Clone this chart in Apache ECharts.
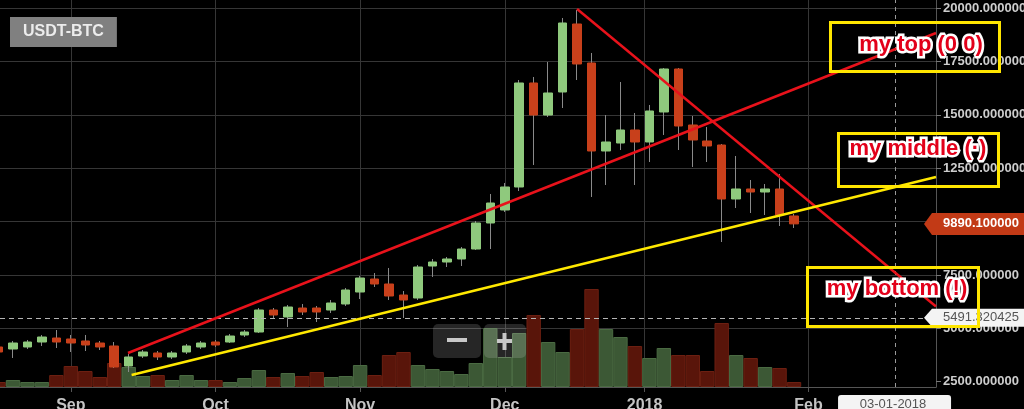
<!DOCTYPE html>
<html><head><meta charset="utf-8">
<script src="https://cdn.jsdelivr.net/npm/echarts@6/dist/echarts.min.js"></script>
<style>html,body{margin:0;padding:0;background:#000;}#c{width:1024px;height:409px;}</style>
</head><body><div id="c"></div>
<script>
// ---- data (3-day candles, USDT-BTC) ----
const dates = ['2017-08-17','2017-08-20','2017-08-23','2017-08-26','2017-08-29','2017-09-01','2017-09-04','2017-09-07','2017-09-10','2017-09-13',
'2017-09-16','2017-09-19','2017-09-22','2017-09-25','2017-09-28','2017-10-01','2017-10-04','2017-10-07','2017-10-10','2017-10-13',
'2017-10-16','2017-10-19','2017-10-22','2017-10-25','2017-10-28','2017-10-31','2017-11-03','2017-11-06','2017-11-09','2017-11-12',
'2017-11-15','2017-11-18','2017-11-21','2017-11-24','2017-11-27','2017-11-30','2017-12-03','2017-12-06','2017-12-09','2017-12-12',
'2017-12-15','2017-12-18','2017-12-21','2017-12-24','2017-12-27','2017-12-30','2018-01-02','2018-01-05','2018-01-08','2018-01-11',
'2018-01-14','2018-01-17','2018-01-20','2018-01-23','2018-01-26','2018-01-29'];
const opens = [4125,4031,4125,4359,4546,4499,4406,4312,4172,3235,3703,3844,3657,3891,4125,4359,4359,4687,4827,5857,5530,5951,5951,5857,6139,6700,7309,7075,6560,6419,7918,8105,8246,8714,9932,10541,11618,16488,14989,16067,19251,17425,13304,13678,14287,13725,15130,17144,14521,13772,13584,11056,11524,11383,11524,10260];
const closes = [3891,4312,4359,4593,4359,4312,4219,4125,3189,3657,3891,3657,3844,4172,4312,4219,4640,4827,5857,5623,5998,5764,5764,6185,6794,7356,7075,6513,6326,7871,8105,8246,8714,9932,10868,11618,16488,14989,16020,19298,17378,13304,13725,14287,13725,15177,17144,14474,13819,13538,11056,11524,11383,11524,10306,9890.1];
const lows = [3750,3610,4031,4172,4078,3891,3937,3984,3142,2954,3610,3516,3563,3797,4031,4125,4312,4593,4780,5483,5061,5623,5295,5717,6045,6372,6935,6326,5483,6326,7403,7871,7918,8667,8714,10447,11430,12648,14896,15317,16628,11150,11711,13350,11711,12788,14053,13350,12554,12788,9042,10634,10400,10306,9791,9698];
const highs = [4265,4406,4453,4687,4921,4687,4687,4406,4359,3797,3984,3937,3937,4265,4406,4453,4734,4921,5951,5951,6092,6139,6045,6326,6888,7450,7590,7825,6747,7965,8246,8339,8808,10025,11290,11805,16628,16769,17471,19532,19907,17893,14989,16535,15083,15458,17190,17190,14942,14428,13631,13069,11945,11758,12226,10353];
const volumes = [5,7,5,5,12,21,16,10,24,20,11,12,7,12,7,7,5,9,17,10,14,11,15,10,11,22,12,32,35,22,18,16,13,24,59,30,54,72,45,35,58,98,58,50,41,29,39,32,32,16,64,32,29,20,19,5];
const monthTicks = ['2017-09-01','2017-10-01','2017-10-31','2017-11-30','2017-12-29','2018-02-01'];
const monthLabels = ['Sep','Oct','Nov','Dec','2018','Feb'];
const axisStart = '2017-08-17 07:16';
const axisEnd = '2018-02-27 10:50';
const lastPrice = 9890.1;
const markPrice = 5491.320425;
const crossDate = '2018-02-18 23:00';
const crossLabel = '03-01-2018';
const trendRedUp = [['2017-09-12 20:24', 3844], ['2018-02-27 10:50', 18830]];
const trendRedDown = [['2017-12-15 00:00', 19950], ['2018-02-27 10:50', 6020]];
const trendYellow = [['2017-09-13 14:24', 2814], ['2018-02-27 10:50', 12086]];
const notes = ['my top (0 0)', 'my middle (·)', 'my bottom (!)'];
const pairName = 'USDT-BTC';

function ts(s){const p=s.split(' ');const d=p[0].split('-').map(Number);const t=(p[1]||'00:00').split(':').map(Number);return new Date(d[0],d[1]-1,d[2],t[0],t[1]).getTime();}

const UP='#8fc97d', DOWN='#c8401b';
const FONT='"Liberation Sans", Arial, sans-serif';
const tickVals = monthTicks.map(ts);
const labelMap = {}; monthTicks.forEach((d,i)=>{labelMap[ts(d)]=monthLabels[i];});

const wickData = dates.map((d,i)=>[ts(d), opens[i], closes[i], lows[i], highs[i]]);
const bodyData = dates.map((d,i)=>[ts(d), opens[i], closes[i], Math.min(opens[i],closes[i]), Math.max(opens[i],closes[i])]);
const volData = dates.map((d,i)=>{const up=closes[i]>=opens[i];return {value:[ts(d), volumes[i]], itemStyle:{color: up?'#3c5835':'#59150a', borderColor: up?'#4a6a42':'#6c1f11', borderWidth:1}};});
const toLine = arr => arr.map(p=>[ts(p[0]), p[1]]);

const chart = echarts.init(document.getElementById('c'));
const option = {
  animation:false,
  backgroundColor:'#000',
  title:{text:pairName,left:10,top:17,backgroundColor:'#808080',padding:[7,13],textStyle:{color:'#ececec',fontSize:16,fontWeight:'bold',fontFamily:FONT}},
  grid:[{left:0,right:88,top:8,bottom:27.3,outerBoundsMode:'none',containLabel:false},{left:0,right:88,top:0,bottom:22,outerBoundsMode:'none',containLabel:false}],
  xAxis:[
    {type:'value',gridIndex:0,min:ts(axisStart),max:ts(axisEnd),show:false},
    {type:'value',gridIndex:1,min:ts(axisStart),max:ts(axisEnd),
     axisLine:{show:true,lineStyle:{color:'#555',width:1}},
     axisTick:{show:true,customValues:tickVals,length:5,lineStyle:{color:'#555'}},
     axisLabel:{customValues:tickVals,formatter:v=>labelMap[v]||'',color:'#c4c4c4',fontSize:16,fontWeight:'bold',fontFamily:FONT,margin:11},
     splitLine:{show:true,lineStyle:{color:'#363636',width:1}}}
  ],
  yAxis:[
    {type:'value',gridIndex:0,position:'right',min:2500,max:20000,interval:2500,
     axisLine:{show:false},axisTick:{show:true,length:5,lineStyle:{color:'#777'}},
     axisLabel:{formatter:v=>v.toFixed(6),color:'#cdcdcd',fontSize:13,fontWeight:'bold',fontFamily:FONT,margin:7},
     splitLine:{show:true,showMinLine:false,lineStyle:{color:'#363636',width:1}}},
    {type:'value',gridIndex:1,position:'right',min:0,max:387,
     axisLine:{show:true,lineStyle:{color:'#555',width:1}},axisTick:{show:false},axisLabel:{show:false},splitLine:{show:false}}
  ],
  series:[
    {type:'bar',name:'volume',xAxisIndex:1,yAxisIndex:1,data:volData,barWidth:14.4,silent:true,
     markLine:{silent:true,symbol:['none','none'],label:{show:false},lineStyle:{type:[4,4],color:'#9a9a9a',width:1},data:[{xAxis:ts(crossDate)}]}},
    {type:'candlestick',name:'wick',xAxisIndex:0,yAxisIndex:0,data:wickData,barWidth:1,silent:true,
     itemStyle:{color:'#8a8a8a',color0:'#8a8a8a',borderColor:'#8a8a8a',borderColor0:'#8a8a8a',borderWidth:1}},
    {type:'candlestick',name:'body',xAxisIndex:0,yAxisIndex:0,data:bodyData,barWidth:9,silent:true,
     itemStyle:{color:UP,color0:DOWN,borderColor:UP,borderColor0:DOWN,borderWidth:1},
     markLine:{silent:true,symbol:['none','none'],label:{show:false},lineStyle:{type:[5,4],color:'#b5b5b5',width:1},data:[{yAxis:markPrice}]}},
    {type:'line',xAxisIndex:0,yAxisIndex:0,data:toLine(trendRedUp),symbol:'none',silent:true,z:5,lineStyle:{color:'#e8121b',width:2.5}},
    {type:'line',xAxisIndex:0,yAxisIndex:0,data:toLine(trendRedDown),symbol:'none',silent:true,z:5,lineStyle:{color:'#e8121b',width:2.5}},
    {type:'line',xAxisIndex:0,yAxisIndex:0,data:toLine(trendYellow),symbol:'none',silent:true,z:5,lineStyle:{color:'#ffe800',width:2.5}}
  ]
};
chart.setOption(option);

const xr = chart.convertToPixel({xAxisIndex:0}, ts(axisEnd));
const yLast = chart.convertToPixel({yAxisIndex:0}, lastPrice);
const yMark = chart.convertToPixel({yAxisIndex:0}, markPrice);
const xCross = chart.convertToPixel({xAxisIndex:1}, ts(crossDate));
const yBottom = chart.convertToPixel({yAxisIndex:1}, 0);

function tag(y, half, fill, txt, txtColor, weight){
  return [
    {type:'polygon',z:100,shape:{points:[[xr-12,y],[xr-4,y-half],[1030,y-half],[1030,y+half],[xr-4,y+half]]},style:{fill:fill}},
    {type:'text',z:101,x:xr+7,y:y,style:{text:txt,fill:txtColor,font:weight+' 13px '+FONT,verticalAlign:'middle',align:'left'}}
  ];
}
function note(text, cx, cy){
  return [
    {type:'text',z:120,x:cx,y:cy,style:{text:text,fill:'none',stroke:'#ffffff',lineWidth:5,lineJoin:'round',font:'bold 22px '+FONT,align:'center',verticalAlign:'middle'}},
    {type:'text',z:121,x:cx,y:cy,style:{text:text,fill:'#e2001a',font:'bold 22px '+FONT,align:'center',verticalAlign:'middle'}}
  ];
}
function box(x,y,w,h){return {type:'rect',z:125,shape:{x:x,y:y,width:w,height:h},style:{fill:'none',stroke:'#ffe600',lineWidth:3}};}

const g = [].concat(
  tag(yLast, 11, '#c23a16', lastPrice.toFixed(6), '#ffffff', 'bold'),
  tag(yMark, 9, '#f4f4f4', String(markPrice), '#555555', 'normal'),
  [
    {type:'rect',z:100,shape:{x:xCross-57,y:yBottom+8,width:113,height:22,r:3},style:{fill:'#f4f4f4'}},
    {type:'text',z:101,x:xCross-2,y:yBottom+17,style:{text:crossLabel,fill:'#555',font:'13px '+FONT,align:'center',verticalAlign:'middle'}},
    {type:'rect',z:90,shape:{x:433,y:324,width:48,height:34,r:5},style:{fill:'rgba(255,255,255,0.15)'}},
    {type:'rect',z:90,shape:{x:484,y:324,width:42,height:34,r:5},style:{fill:'rgba(255,255,255,0.15)'}},
    {type:'rect',z:91,shape:{x:447,y:338,width:20,height:4},style:{fill:'#c8c8c8'}},
    {type:'rect',z:91,shape:{x:497,y:339,width:15,height:4},style:{fill:'#c8c8c8'}},
    {type:'rect',z:91,shape:{x:502.5,y:333,width:4,height:17},style:{fill:'#c8c8c8'}}
  ],
  note(notes[0], 921, 45), note(notes[1], 918, 149), note(notes[2], 897, 289),
  [box(830.5,22.5,169,49), box(838.5,133.5,160,53), box(807.5,267.5,171,59)]
);
chart.setOption({graphic:g});
</script></body></html>
